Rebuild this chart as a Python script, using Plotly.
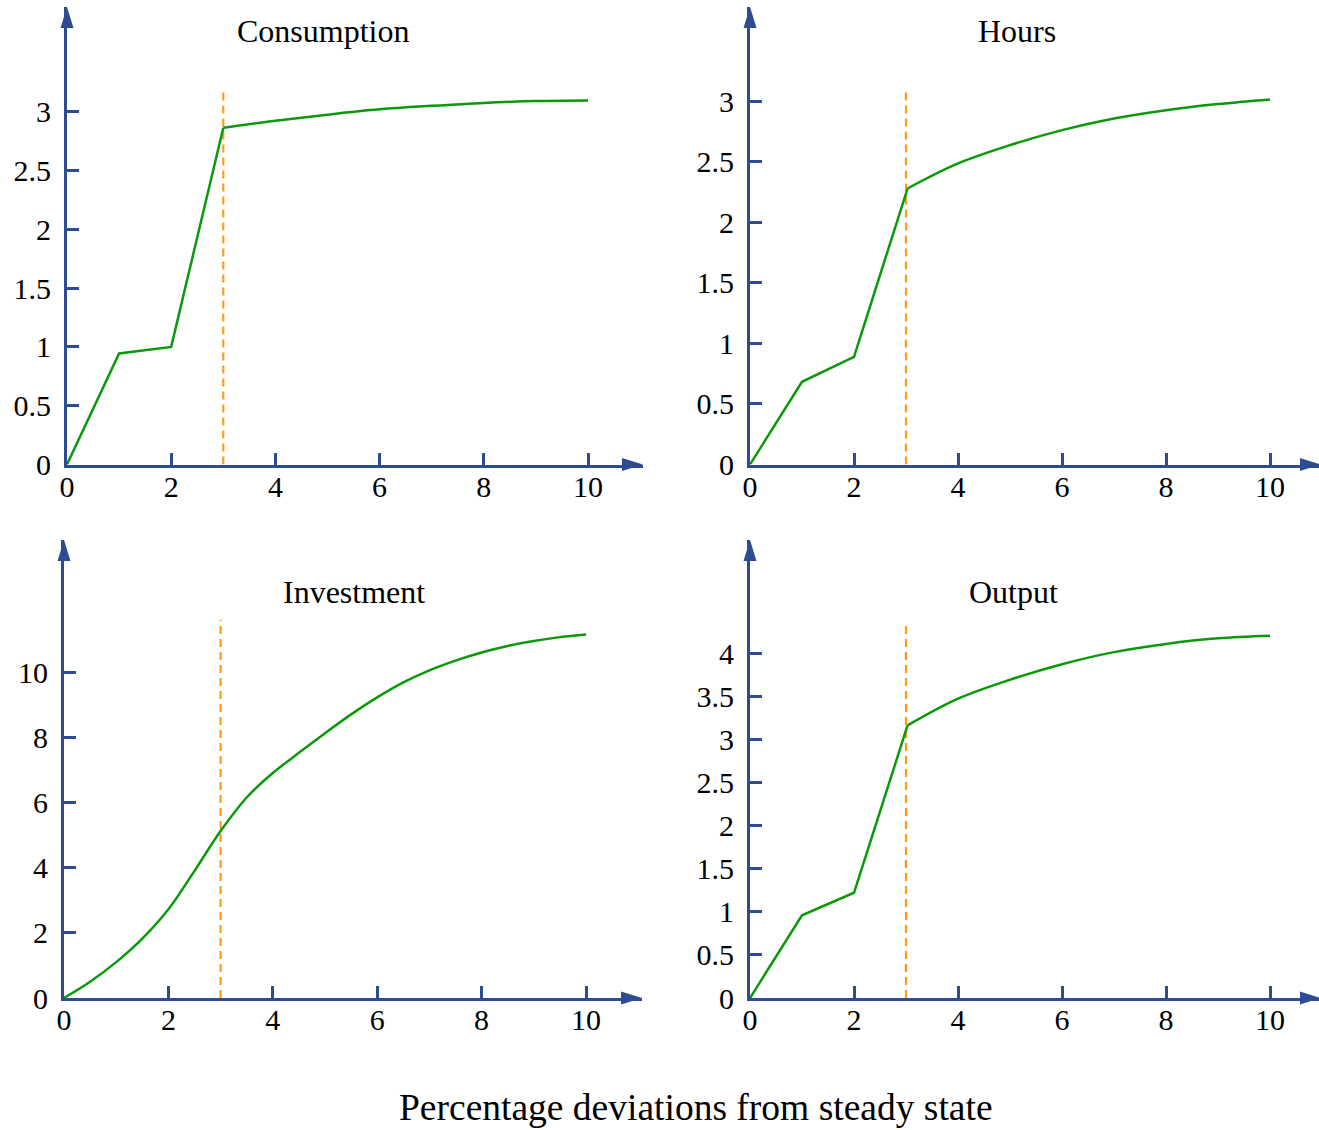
import plotly.graph_objects as go

W, H = 1319, 1130

# ---------------- data ----------------
titles = ["Consumption", "Hours", "Investment", "Output"]
bottom_title = "Percentage deviations from steady state"

x_ticks = [0, 2, 4, 6, 8, 10]
y_ticks_cons = [0, 0.5, 1, 1.5, 2, 2.5, 3]
y_ticks_hours = [0, 0.5, 1, 1.5, 2, 2.5, 3]
y_ticks_inv = [0, 2, 4, 6, 8, 10]
y_ticks_out = [0, 0.5, 1, 1.5, 2, 2.5, 3, 3.5, 4]

# Consumption
cons_early_x = [0, 1, 2, 3]
cons_early_y = [0, 0.944, 1.0, 2.864]
cons_late_x = [3, 4, 5, 6, 7, 8, 9, 10]
cons_late_y = [2.864, 2.923, 2.975, 3.02, 3.05, 3.075, 3.09, 3.095]

# Hours
hours_early_x = [0, 1, 2, 3.03]
hours_early_y = [0, 0.683, 0.889, 2.279]
hours_late_x = [3.03, 4, 5, 6, 7, 8, 9, 10]
hours_late_y = [2.279, 2.486, 2.637, 2.761, 2.857, 2.926, 2.976, 3.014]

# Investment
inv_x = [0, 0.5, 1, 1.5, 2, 2.5, 3, 3.5, 4, 4.5, 5, 5.5, 6, 6.5, 7, 7.5, 8, 8.5, 9, 9.5, 10]
inv_y = [0, 0.5, 1.1, 1.82, 2.72, 3.9, 5.12, 6.15, 6.9, 7.52, 8.12, 8.7, 9.22, 9.68, 10.05,
         10.35, 10.6, 10.8, 10.95, 11.07, 11.15]

# Output
out_early_x = [0, 1, 2, 3.03]
out_early_y = [0, 0.959, 1.22, 3.16]
out_late_x = [3.03, 4, 5, 6, 7, 8, 9, 10]
out_late_y = [3.16, 3.47, 3.69, 3.87, 4.01, 4.105, 4.17, 4.20]

# vertical dashed marker at period 3
marker_x = [3, 3]
marker_top = [3.18, 3.10, 11.6, 4.35]

# ---------------- style ----------------
BLUE = "#2D4C94"
GREEN = "#0A990A"
ORANGE = "#FF9A1A"
FONT = "Times New Roman, Liberation Serif, serif"

# panels: (axis origin px x, axis origin px y, arrow tip px x, arrow tip px y, px per x unit, px per y unit)
panels = [
    (67, 464.5, 643, 7, 52.1, 117.6),
    (750, 464.5, 1321, 7, 52.0, 121.1),
    (64, 998, 642, 540, 52.2, 32.6),
    (750, 998, 1321, 540, 52.0, 86.25),
]
title_pos = [(323, 31), (1017, 31), (354, 592), (1013, 592)]
y_tick_sets = [y_ticks_cons, y_ticks_hours, y_ticks_inv, y_ticks_out]


def px(x):
    return x / W


def py(y):
    return 1 - y / H


fig = go.Figure()
shapes = []
annotations = []

for i, (ox, oy, tx, ty, sx, sy) in enumerate(panels):
    n = "" if i == 0 else str(i + 1)
    xa, ya = "x" + n, "y" + n
    xend = min(tx, W)
    fig.update_layout(**{
        "xaxis" + n: dict(
            domain=[px(ox), px(xend)], range=[0, (xend - ox) / sx], anchor=ya,
            automargin=False,
            showgrid=False, zeroline=False, showline=True, linecolor=BLUE, linewidth=3,
            ticks="inside", ticklen=12, tickwidth=2.5, tickcolor=BLUE,
            tickvals=x_ticks, ticktext=[str(v) for v in x_ticks],
            tickfont=dict(family=FONT, size=30, color="black"),
            ticklabelstandoff=-7, fixedrange=True,
        ),
        "yaxis" + n: dict(
            domain=[py(oy), py(ty)], range=[0, (oy - ty) / sy], anchor=xa,
            automargin=False,
            showgrid=False, zeroline=False, showline=True, linecolor=BLUE, linewidth=3,
            ticks="inside", ticklen=12, tickwidth=2.5, tickcolor=BLUE,
            tickvals=y_tick_sets[i], ticktext=[f"{v:g}" for v in y_tick_sets[i]],
            tickfont=dict(family=FONT, size=30, color="black"),
            ticklabelstandoff=7, fixedrange=True,
        ),
    })
    # arrowheads
    L, hw = 21, 6.5
    shapes.append(dict(type="path", xref="paper", yref="paper", line=dict(width=0), fillcolor=BLUE,
                       path=f"M {px(tx)},{py(oy)} L {px(tx - L)},{py(oy - hw)} L {px(tx - L)},{py(oy + hw)} Z"))
    shapes.append(dict(type="path", xref="paper", yref="paper", line=dict(width=0), fillcolor=BLUE,
                       path=f"M {px(ox)},{py(ty)} L {px(ox - hw)},{py(ty + L)} L {px(ox + hw)},{py(ty + L)} Z"))
    tx_, ty_ = title_pos[i]
    annotations.append(dict(text=titles[i], x=px(tx_), y=py(ty_), xref="paper", yref="paper",
                            showarrow=False, xanchor="center", yanchor="middle",
                            font=dict(family=FONT, size=32, color="black")))
    # dashed marker
    fig.add_trace(go.Scatter(x=marker_x, y=[0, marker_top[i]], mode="lines",
                             line=dict(color=ORANGE, width=2.2, dash="8px,5px"),
                             xaxis=xa, yaxis=ya, showlegend=False, hoverinfo="skip"))

series = [
    [(cons_early_x, cons_early_y, "linear"), (cons_late_x, cons_late_y, "spline")],
    [(hours_early_x, hours_early_y, "linear"), (hours_late_x, hours_late_y, "spline")],
    [(inv_x, inv_y, "spline")],
    [(out_early_x, out_early_y, "linear"), (out_late_x, out_late_y, "spline")],
]
for i, parts in enumerate(series):
    n = "" if i == 0 else str(i + 1)
    for xs, ys, shape in parts:
        fig.add_trace(go.Scatter(x=xs, y=ys, mode="lines",
                                 line=dict(color=GREEN, width=2.5, shape=shape),
                                 xaxis="x" + n, yaxis="y" + n, showlegend=False))

annotations.append(dict(text=bottom_title, x=px(696), y=py(1107), xref="paper", yref="paper",
                        showarrow=False, xanchor="center", yanchor="middle",
                        font=dict(family=FONT, size=37.5, color="black")))

fig.update_layout(width=W, height=H, margin=dict(l=0, r=0, t=0, b=0, autoexpand=False),
                  font=dict(family=FONT, color="black"),
                  paper_bgcolor="white", plot_bgcolor="white",
                  shapes=shapes, annotations=annotations, showlegend=False)

fig.write_html("out.html", config={"displayModeBar": False})
